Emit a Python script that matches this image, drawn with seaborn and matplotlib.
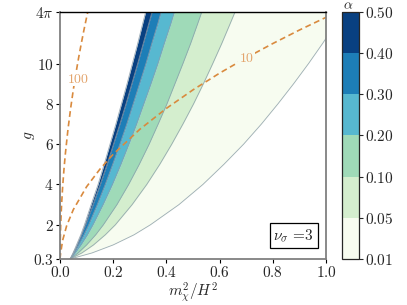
import numpy as np
import matplotlib
matplotlib.use('Agg')
import matplotlib.pyplot as plt
import seaborn as sns
from matplotlib.colors import ListedColormap, BoundaryNorm
from matplotlib.cm import ScalarMappable

# valores de g onde as curvas de alpha foram lidas
g_pts = [0.3, 0.6, 1, 1.5, 2, 3, 4, 5, 6, 7, 8, 9, 10, 11, 12, 4 * np.pi]

# posicao em m^2/H^2 de cada contorno de alpha
x_001 = [0.038, 0.120, 0.200, 0.278, 0.340, 0.447, 0.537, 0.616, 0.690, 0.757, 0.819, 0.878, 0.934, 0.987, 1.037, 1.065]
x_005 = [0.038, 0.082, 0.126, 0.170, 0.208, 0.271, 0.326, 0.375, 0.420, 0.462, 0.502, 0.539, 0.574, 0.608, 0.640, 0.658]
x_010 = [0.038, 0.068, 0.100, 0.134, 0.163, 0.214, 0.258, 0.298, 0.335, 0.369, 0.402, 0.432, 0.462, 0.491, 0.518, 0.533]
x_020 = [0.038, 0.057, 0.079, 0.103, 0.124, 0.162, 0.197, 0.229, 0.259, 0.288, 0.315, 0.342, 0.368, 0.392, 0.417, 0.430]
x_030 = [0.038, 0.053, 0.070, 0.090, 0.108, 0.140, 0.170, 0.198, 0.225, 0.251, 0.275, 0.299, 0.323, 0.345, 0.368, 0.380]
x_040 = [0.038, 0.050, 0.065, 0.081, 0.096, 0.124, 0.151, 0.177, 0.201, 0.225, 0.248, 0.270, 0.292, 0.313, 0.334, 0.346]
x_050 = [0.038, 0.049, 0.062, 0.078, 0.092, 0.117, 0.143, 0.166, 0.188, 0.210, 0.231, 0.252, 0.272, 0.292, 0.311, 0.322]

levels = [0.01, 0.05, 0.10, 0.20, 0.30, 0.40, 0.50]
level_labels = ['$0.01$', '$0.05$', '$0.10$', '$0.20$', '$0.30$', '$0.40$', '$0.50$']

# curvas tracejadas (10 e 100)
x_10 = [0.0, 0.002, 0.01, 0.025, 0.05, 0.1, 0.15, 0.2, 0.3, 0.4, 0.5, 0.6, 0.7, 0.8, 0.9, 1.0]
g_10 = [0.3, 0.55, 1.23, 1.95, 2.75, 3.89, 4.76, 5.50, 6.74, 7.78, 8.70, 9.53, 10.29, 11.00, 11.67, 12.30]
x_100 = [0.0, 0.001, 0.003, 0.006, 0.01, 0.015, 0.02, 0.03, 0.04, 0.05, 0.06, 0.07, 0.08, 0.09, 0.1, 0.1045]
g_100 = [0.3, 1.23, 2.13, 3.01, 3.89, 4.76, 5.50, 6.74, 7.78, 8.70, 9.53, 10.29, 11.00, 11.67, 12.30, 12.57]

x_ticks = [0.0, 0.2, 0.4, 0.6, 0.8, 1.0]
x_ticklabels = ['$0.0$', '$0.2$', '$0.4$', '$0.6$', '$0.8$', '$1.0$']
y_ticks = [0.3, 2, 4, 6, 8, 10, 4 * np.pi]
y_ticklabels = ['$0.3$', '$2$', '$4$', '$6$', '$8$', '$10$', r'$4\pi$']

sns.set_style('ticks')
plt.rcParams['mathtext.fontset'] = 'cm'
plt.rcParams['font.family'] = ['DejaVu Serif']

cores = plt.get_cmap('GnBu')(np.linspace(0, 1, 6))
cmap = ListedColormap(cores)
norm = BoundaryNorm(levels, cmap.N)

fig = plt.figure(figsize=(4.07, 3.05), dpi=100)
ax = fig.add_axes([0.1474, 0.1508, 0.6536, 0.8099])
cax = fig.add_axes([0.8403, 0.1508, 0.0418, 0.8099])

curvas = [x_001, x_005, x_010, x_020, x_030, x_040, x_050]
for i in range(6):
    # faixa entre o contorno i (direita) e o contorno i+1 (esquerda)
    ax.fill_betweenx(g_pts, curvas[i + 1], curvas[i], color=cores[i], lw=0)
for c in curvas:
    sns.lineplot(x=c, y=g_pts, sort=False, estimator=None, ax=ax,
                 color='#8c9eaa', lw=0.6, alpha=0.85)

laranja = '#d98a3e'
sns.lineplot(x=x_10, y=g_10, sort=False, estimator=None, ax=ax, color=laranja,
             lw=1.2, linestyle=(0, (3.5, 2.2)))
sns.lineplot(x=x_100, y=g_100, sort=False, estimator=None, ax=ax, color=laranja,
             lw=1.2, linestyle=(0, (3.5, 2.2)))
ax.text(0.702, 10.3, '$10$', color='#e3a46c', fontsize=10, ha='center', va='center',
        bbox=dict(facecolor=cores[0], edgecolor='none', pad=0.5))
ax.text(0.068, 9.25, '$100$', color='#e3a46c', fontsize=10, ha='center', va='center',
        bbox=dict(facecolor='white', edgecolor='none', pad=0.5))

ax.set_xlim(0, 1)
ax.set_ylim(0.3, 4 * np.pi)
ax.set_xticks(x_ticks)
ax.set_xticklabels(x_ticklabels)
ax.set_yticks(y_ticks)
ax.set_yticklabels(y_ticklabels)
ax.tick_params(labelsize=11, length=3, width=0.8, color='black', pad=1.5)
ax.set_xlabel(r'$m_\chi^2/H^2$', fontsize=11, labelpad=0)
ax.set_ylabel('$g$', fontsize=11, labelpad=-3)

for lado in ['left', 'bottom', 'right']:
    ax.spines[lado].set_color('#808080')
    ax.spines[lado].set_linewidth(1.3)
ax.spines['top'].set_color('black')
ax.spines['top'].set_linewidth(1.0)

ax.text(0.955, 0.06, r'$\nu_\sigma$ =3', transform=ax.transAxes, fontsize=11,
        family='cmr10', ha='right', va='bottom',
        bbox=dict(facecolor='white', edgecolor='black', boxstyle='square,pad=0.25', lw=0.9))

cb = fig.colorbar(ScalarMappable(norm=norm, cmap=cmap), cax=cax, spacing='uniform', ticks=levels)
cb.ax.set_yticklabels(level_labels)
cb.ax.tick_params(labelsize=11, length=3, width=0.8, pad=1.5)
cb.outline.set_linewidth(0.9)
fig.text(0.855, 0.982, r'$\alpha$', fontsize=10, ha='center', va='center')

fig.savefig('out.png', dpi=100)
